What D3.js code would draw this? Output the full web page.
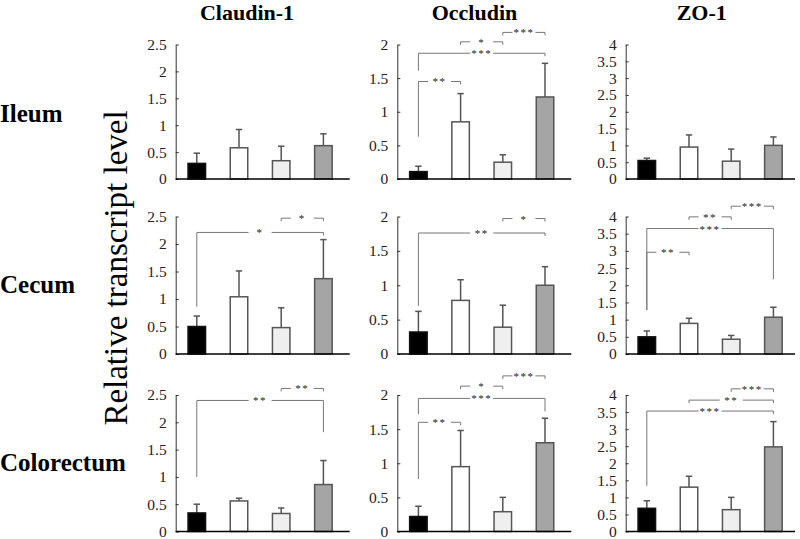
<!DOCTYPE html>
<html>
<head>
<meta charset="utf-8">
<script src="https://cdn.jsdelivr.net/npm/d3@7"></script>
<style>
  html, body { margin: 0; padding: 0; background: #fff; }
  svg { display: block; }
  text { font-family: "Liberation Serif", "Times New Roman", serif; }
</style>
</head>
<body>
<svg id="chart" width="800" height="539"></svg>
<script>
// ---------------- DATA ----------------
const genes = ["Claudin-1", "Occludin", "ZO-1"];
const tissues = ["Ileum", "Cecum", "Colorectum"];
const groups = ["Group 1", "Group 2", "Group 3", "Group 4"];
const groupFills = ["#000000", "#ffffff", "#efefef", "#a5a5a5"];
const yMaxByGene = [2.5, 2, 4];
const tickStep = 0.5;
const yTitle = "Relative transcript level";

// mean values [tissue][gene][group]
const ileumMeans      = [[0.29, 0.58, 0.34, 0.62], [0.11, 0.85, 0.25, 1.22], [0.55, 0.95, 0.53, 1.00]];
const cecumMeans      = [[0.50, 1.04, 0.48, 1.37], [0.32, 0.78, 0.39, 1.00], [0.50, 0.89, 0.43, 1.07]];
const colorectumMeans = [[0.34, 0.56, 0.33, 0.86], [0.22, 0.95, 0.29, 1.30], [0.68, 1.30, 0.64, 2.48]];
// standard deviations (upper error bars)
const ileumSD      = [[0.19, 0.34, 0.27, 0.22], [0.08, 0.42, 0.11, 0.50], [0.07, 0.36, 0.36, 0.25]];
const cecumSD      = [[0.19, 0.47, 0.36, 0.71], [0.30, 0.30, 0.32, 0.27], [0.17, 0.15, 0.11, 0.29]];
const colorectumSD = [[0.16, 0.05, 0.10, 0.44], [0.15, 0.53, 0.21, 0.36], [0.22, 0.32, 0.36, 0.74]];

// significance brackets: [fromGroup, toGroup, level, label, leftDropTo, rightDropTo]
const ileumSig = [
  [],
  [[0, 1, 1.45, "**", 0.63, null], [0, 3, 1.87, "***", 1.61, null], [1, 2, 2.04, "*", null, null], [2, 3, 2.18, "***", null, null]],
  []
];
const cecumSig = [
  [[0, 3, 2.21, "*", 0.86, null], [2, 3, 2.47, "*", null, null]],
  [[0, 3, 1.76, "**", 0.70, null], [2, 3, 1.97, "*", null, null]],
  [[0, 1, 2.96, "**", 1.28, null], [0, 3, 3.65, "***", 1.28, 2.17], [1, 2, 3.99, "**", null, null], [2, 3, 4.30, "***", null, null]]
];
const colorectumSig = [
  [[0, 3, 2.40, "**", 1.00, 1.82], [2, 3, 2.62, "**", null, null]],
  [[0, 1, 1.60, "**", 0.77, null], [0, 3, 1.95, "***", 1.72, 1.76], [1, 2, 2.13, "*", null, null], [2, 3, 2.28, "***", null, null]],
  [[0, 3, 3.53, "***", 1.34, null], [1, 3, 3.85, "**", null, null], [2, 3, 4.18, "***", null, null]]
];

const meansAll = [ileumMeans, cecumMeans, colorectumMeans];
const sdAll = [ileumSD, cecumSD, colorectumSD];
const sigAll = [ileumSig, cecumSig, colorectumSig];

// ---------------- LAYOUT ----------------
const colX = [175.7, 397.3, 625.7];
const bandWidthTotal = 168.8;
const axisLen = 174;
const rowTop = [44.5, 216.5, 395];
const rowBottom = [179, 354, 531.5];
const titleX = [247, 474.5, 701.7];
const rowLabelY = [121.7, 293.3, 470.7];
const serif = "'Liberation Serif', 'Times New Roman', serif";

const svg = d3.select("#chart");

// column titles
svg.selectAll("text.gene").data(genes).join("text")
  .attr("class", "gene")
  .attr("x", (d, i) => titleX[i]).attr("y", 20)
  .attr("text-anchor", "middle")
  .attr("font-weight", "bold").attr("font-size", 22).attr("fill", "#000")
  .text(d => d);

// row labels
svg.selectAll("text.tissue").data(tissues).join("text")
  .attr("class", "tissue")
  .attr("x", 0).attr("y", (d, i) => rowLabelY[i])
  .attr("font-weight", "bold").attr("font-size", 25).attr("fill", "#000")
  .text(d => d);

// y title
svg.append("text")
  .attr("transform", "translate(127,268) rotate(-90)")
  .attr("text-anchor", "middle")
  .attr("font-size", 33).attr("fill", "#000")
  .text(yTitle);

tissues.forEach((tissue, r) => {
  genes.forEach((gene, c) => {
    const x0 = colX[c];
    const yMax = yMaxByGene[c];
    const x = d3.scaleBand().domain(groups)
      .range([x0, x0 + bandWidthTotal])
      .paddingInner(0.585).paddingOuter(0.2925);
    const y = d3.scaleLinear().domain([0, yMax]).range([rowBottom[r], rowTop[r]]);
    const g = svg.append("g");
    const means = meansAll[r][c];
    const sds = sdAll[r][c];

    // y axis
    const ticks = d3.range(0, yMax + 1e-9, tickStep);
    const ax = g.append("g").attr("transform", `translate(${x0},0)`)
      .call(d3.axisLeft(y).tickValues(ticks).tickSizeInner(-3).tickSizeOuter(0).tickPadding(9)
        .tickFormat(d => d3.format("")(+d.toFixed(1))));
    ax.attr("font-family", serif);
    ax.select(".domain").attr("stroke", "#333").attr("stroke-width", 1);
    ax.selectAll(".tick line").attr("stroke", "#333");
    ax.selectAll(".tick text").attr("font-size", 15.5).attr("fill", "#222")
      .attr("font-family", serif);

    // error bars
    const eb = g.append("g");
    groups.forEach((grp, i) => {
      const cx = x(grp) + x.bandwidth() / 2;
      eb.append("line").attr("x1", cx).attr("x2", cx)
        .attr("y1", y(means[i])).attr("y2", y(means[i] + sds[i]))
        .attr("stroke", "#555").attr("stroke-width", 1.5);
      eb.append("line").attr("x1", cx - 3.2).attr("x2", cx + 3.2)
        .attr("y1", y(means[i] + sds[i])).attr("y2", y(means[i] + sds[i]))
        .attr("stroke", "#555").attr("stroke-width", 1.5);
    });

    // bars
    g.selectAll("rect.bar").data(means).join("rect")
      .attr("class", "bar")
      .attr("x", (d, i) => x(groups[i]))
      .attr("width", x.bandwidth())
      .attr("y", d => y(d))
      .attr("height", d => y(0) - y(d))
      .attr("fill", (d, i) => groupFills[i])
      .attr("stroke", (d, i) => i === 0 ? "#111" : "#555")
      .attr("stroke-width", 1.5);

    // x axis line
    g.append("line")
      .attr("x1", x0).attr("x2", Math.min(x0 + axisLen, 795))
      .attr("y1", y(0)).attr("y2", y(0))
      .attr("stroke", "#000").attr("stroke-width", 1.5);

    // significance brackets
    const sg = g.append("g");
    sigAll[r][c].forEach(([a, b, lvl, label, dropL, dropR]) => {
      const xa = x(groups[a]) + x.bandwidth() / 2;
      const xb = x(groups[b]) + x.bandwidth() / 2;
      const yl = y(lvl);
      const mid = (xa + xb) / 2;
      const gap = 11.5;
      const yA = dropL === null ? yl + 3 : y(dropL);
      const yB = dropR === null ? yl + 3 : y(dropR);
      const path = `M${xa},${yA}V${yl}H${mid - gap}M${mid + gap},${yl}H${xb}V${yB}`;
      sg.append("path").attr("d", path)
        .attr("fill", "none").attr("stroke", "#777").attr("stroke-width", 1);
      sg.append("text").attr("x", mid).attr("y", yl + 4)
        .attr("text-anchor", "middle").attr("font-size", 11).attr("fill", "#222")
        .attr("letter-spacing", 1.5)
        .text(label);
    });
  });
});
</script>
</body>
</html>
